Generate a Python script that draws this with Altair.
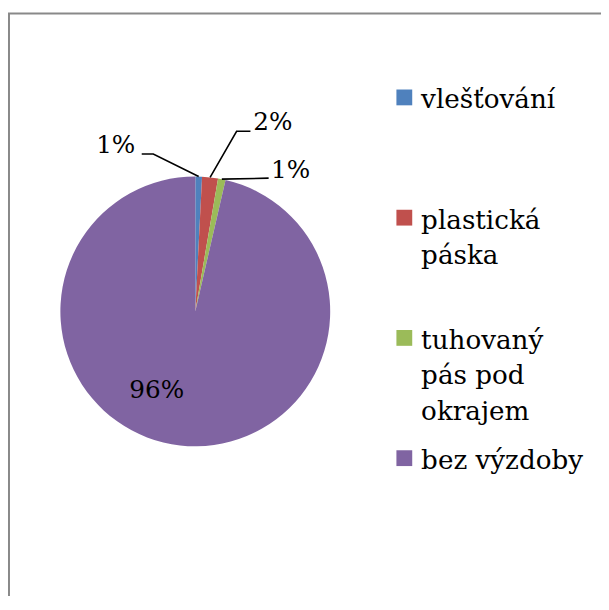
import math
import altair as alt
import pandas as pd

# ---- data ----
categories = ["vlešťování", "plastická páska", "tuhovaný pás pod okrajem", "bez výzdoby"]
legend_labels = ["vlešťování", "plastická\npáska", "tuhovaný\npás pod\nokrajem", "bez výzdoby"]
values = [0.8, 1.9, 0.9, 96.4]
pct_labels = ["1%", "2%", "1%", "96%"]
colors = ["#4F81BD", "#C0504D", "#9BBB59", "#8064A2"]

# ---- layout (pixels, plot coordinates) ----
CX, CY, R = 187.5, 299.5, 136.5
FONT = "DejaVu Serif"
# label anchor positions (text centre x, baseline y), set by hand like in the original
label_pos = [(107, 139), (266, 116), (284, 165), (148.5, 387)]
# leader line bends / ends near labels (None = no leader)
leader_pts = [[(145, 140.3), (133.3, 140.3)],
              [(229.3, 117.3), (243.3, 117.3)],
              [(261.7, 164.7)],
              None]

total = sum(values)
pie_df = pd.DataFrame({"category": categories, "value": values,
                       "idx": list(range(len(values)))})

lab_rows, line_rows = [], []
cum = 0.0
for i, v in enumerate(values):
    mid = (cum + v / 2) / total * 2 * math.pi
    cum += v
    lx, ly = label_pos[i]
    lab_rows.append({"category": categories[i], "text": pct_labels[i], "x": lx, "y": ly})
    if leader_pts[i] is not None:
        sx = CX + R * math.sin(mid)
        sy = CY - R * math.cos(mid)
        pts = [(sx, sy)] + leader_pts[i]
        for j, (px, py) in enumerate(pts):
            line_rows.append({"category": categories[i], "o": j, "x": px, "y": py})
lab_df = pd.DataFrame(lab_rows)
line_df = pd.DataFrame(line_rows)
leg_df = pd.DataFrame({"category": categories, "label": legend_labels})

color = alt.Color("category:N", scale=alt.Scale(domain=categories, range=colors), legend=None)

border = alt.Chart(pd.DataFrame({"a": [0]})).mark_rect(
    fillOpacity=0, stroke="#898989", strokeWidth=2
).encode(x=alt.value(-1), x2=alt.value(900), y=alt.value(-2), y2=alt.value(900))

pie = alt.Chart(pie_df).mark_arc(outerRadius=R).encode(
    theta=alt.Theta("value:Q", stack=True),
    order=alt.Order("idx:Q"),
    color=color,
    x=alt.value(CX), y=alt.value(CY),
)

leaders = alt.Chart(line_df).mark_line(color="black", strokeWidth=1.6).encode(
    x=alt.X("x:Q", scale=None, axis=None),
    y=alt.Y("y:Q", scale=None, axis=None),
    detail="category:N",
    order="o:Q",
)

labels = alt.Chart(lab_df).mark_text(
    font=FONT, fontSize=25, color="black", align="center", baseline="alphabetic"
).encode(
    x=alt.X("x:Q", scale=None, axis=None),
    y=alt.Y("y:Q", scale=None, axis=None),
    text="text:N",
)

leg_y = alt.Y("category:N", sort=categories,
              scale=alt.Scale(type="point", domain=categories, range=[83, 448], padding=0),
              axis=None)

leg_sym = alt.Chart(leg_df).mark_square(size=256, opacity=1).encode(
    x=alt.value(399), y=leg_y, color=color
)
leg_txt = alt.Chart(leg_df).mark_text(
    font=FONT, fontSize=26.5, color="black", align="left", baseline="alphabetic",
    lineBreak="\n", lineHeight=36, dy=11
).encode(x=alt.value(416), y=leg_y, text="label:N")

chart = alt.layer(border, pie, leaders, labels, leg_sym, leg_txt).resolve_scale(
    x="independent", y="independent", color="shared"
).properties(
    width=598, height=584,
    autosize=alt.AutoSizeParams(type="none"),
    padding={"left": 2, "top": 4, "right": 0, "bottom": 0},
    background="white",
).configure_view(stroke=None)

chart.save("out.html", embed_options={"renderer": "svg", "actions": False})
